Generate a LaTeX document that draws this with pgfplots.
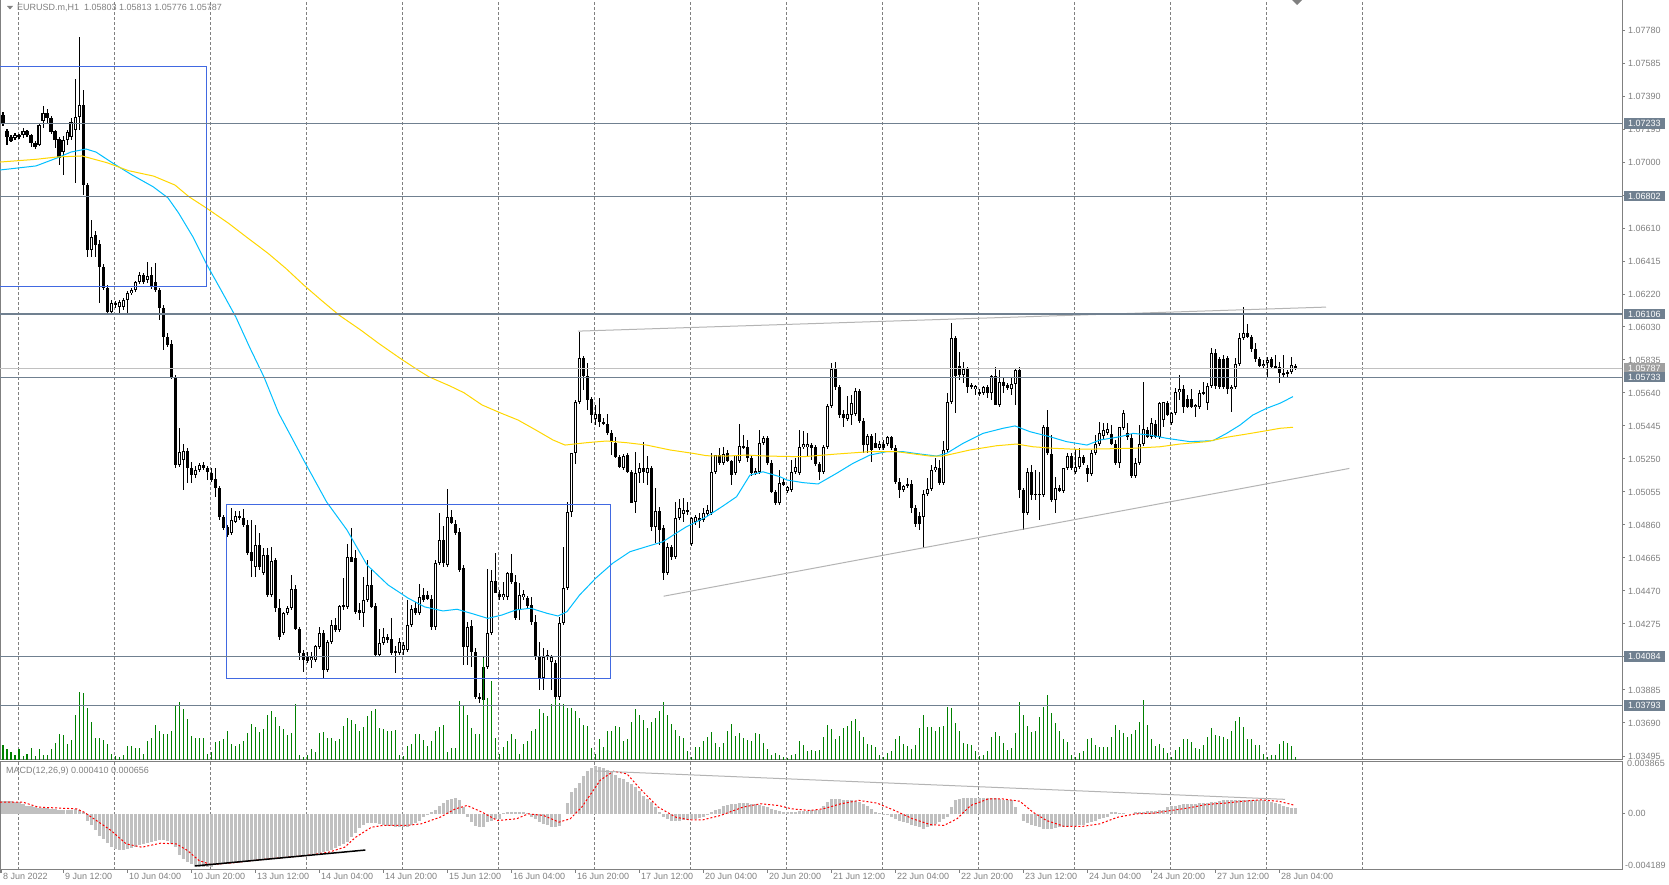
\documentclass[border=0pt]{standalone}
\usepackage{fontspec}
\setmainfont{Liberation Sans}
\usepackage{pgfplots}
\usepackage{pgfplotstable}
\pgfplotsset{compat=1.18}

\definecolor{mtgray}{RGB}{128,128,128}
\definecolor{mtslate}{RGB}{112,128,144}
\definecolor{mtbid}{RGB}{160,160,160}
\definecolor{mtblue}{RGB}{65,105,225}
\definecolor{mtsky}{RGB}{0,191,255}
\definecolor{mtgold}{RGB}{255,215,0}
\definecolor{mtgreen}{RGB}{0,128,0}
\definecolor{mtsilver}{RGB}{192,192,192}
\definecolor{mtline}{RGB}{180,180,180}
\definecolor{mtred}{RGB}{255,0,0}
\newcommand{\mtfont}{\fontsize{9}{10}\selectfont}

% EURUSD H1 bars: index, open, high, low, close, volume (relative), MACD main
\pgfplotstableread{
i o h l c v m
0 1.07282 1.07300 1.07217 1.07229 15 0.00095
1 1.07188 1.07199 1.07105 1.07152 11 0.00095
2 1.07152 1.07164 1.07123 1.07128 8 0.00093
3 1.07146 1.07176 1.07134 1.07164 5 0.0009
4 1.07164 1.07170 1.07140 1.07152 11 0.00087
5 1.07164 1.07205 1.07146 1.07188 4 0.0007
6 1.07188 1.07193 1.07152 1.07164 6 0.0006
7 1.07164 1.07170 1.07093 1.07117 12 0.00055
8 1.07117 1.07128 1.07081 1.07093 4 0.0005
9 1.07105 1.07229 1.07099 1.07223 11 0.00047
10 1.07247 1.07335 1.07205 1.07294 5 0.00042
11 1.07294 1.07317 1.07235 1.07264 5 0.0004
12 1.07264 1.07276 1.07170 1.07182 11 0.00038
13 1.07188 1.07193 1.07087 1.07134 17 0.00035
14 1.07140 1.07152 1.06987 1.07028 26 0.00032
15 1.07063 1.07158 1.06928 1.07134 25 0.0003
16 1.07134 1.07193 1.07105 1.07182 16 0.0003
17 1.07152 1.07264 1.07134 1.07241 20 0.00032
18 1.07193 1.07495 1.06880 1.07270 45 0.00033
19 1.07270 1.07743 1.07193 1.07341 68 0.0003
20 1.07341 1.07430 1.06809 1.06868 67 0.0001
21 1.06868 1.06880 1.06443 1.06484 52 -0.0005
22 1.06484 1.06662 1.06443 1.06561 38 -0.00087
23 1.06573 1.06597 1.06443 1.06514 22 -0.00124
24 1.06520 1.06544 1.06171 1.06384 22 -0.00162
25 1.06384 1.06402 1.06248 1.06260 20 -0.00186
26 1.06260 1.06278 1.06112 1.06118 16 -0.00215
27 1.06118 1.06189 1.06112 1.06171 6 -0.00245
28 1.06171 1.06183 1.06142 1.06160 4 -0.00265
29 1.06148 1.06189 1.06112 1.06177 3 -0.0027
30 1.06148 1.06201 1.06130 1.06189 5 -0.00268
31 1.06189 1.06242 1.06112 1.06230 14 -0.00261
32 1.06230 1.06260 1.06219 1.06248 14 -0.00252
33 1.06248 1.06301 1.06236 1.06295 12 -0.00244
34 1.06295 1.06355 1.06284 1.06337 12 -0.00236
35 1.06337 1.06349 1.06284 1.06295 6 -0.00228
36 1.06307 1.06414 1.06289 1.06331 19 -0.0022
37 1.06337 1.06384 1.06254 1.06266 22 -0.00208
38 1.06295 1.06408 1.06236 1.06248 35 -0.002
39 1.06248 1.06260 1.06071 1.06142 29 -0.00192
40 1.06142 1.06160 1.05894 1.05970 26 -0.00194
41 1.05970 1.05994 1.05911 1.05923 26 -0.00205
42 1.05929 1.05953 1.05722 1.05734 29 -0.00225
43 1.05734 1.05746 1.05196 1.05214 55 -0.00249
44 1.05214 1.05433 1.05202 1.05291 58 -0.00305
45 1.05244 1.05338 1.05067 1.05297 51 -0.00336
46 1.05297 1.05315 1.05108 1.05196 41 -0.0036
47 1.05196 1.05232 1.05108 1.05155 24 -0.00373
48 1.05155 1.05208 1.05138 1.05185 22 -0.00385
49 1.05185 1.05226 1.05173 1.05214 22 -0.00393
50 1.05214 1.05232 1.05185 1.05196 22 -0.004
51 1.05196 1.05208 1.05126 1.05173 6 -0.00398
52 1.05167 1.05196 1.05114 1.05126 8 -0.00393
53 1.05132 1.05196 1.05025 1.05078 18 -0.00385
54 1.05078 1.05090 1.04889 1.04907 19 -0.00378
55 1.04907 1.04919 1.04830 1.04842 21 -0.00375
56 1.04848 1.04860 1.04789 1.04801 29 -0.00372
57 1.04813 1.04960 1.04801 1.04889 16 -0.0037
58 1.04877 1.04942 1.04871 1.04913 14 -0.00368
59 1.04913 1.04942 1.04889 1.04901 16 -0.00365
60 1.04901 1.04954 1.04848 1.04860 19 -0.00362
61 1.04860 1.04889 1.04682 1.04694 27 -0.0036
62 1.04700 1.04889 1.04553 1.04647 36 -0.00355
63 1.04612 1.04860 1.04553 1.04741 33 -0.0035
64 1.04741 1.04813 1.04594 1.04612 28 -0.00348
65 1.04576 1.04724 1.04564 1.04682 31 -0.00345
66 1.04682 1.04724 1.04434 1.04446 45 -0.00343
67 1.04446 1.04730 1.04434 1.04647 49 -0.0034
68 1.04653 1.04665 1.04346 1.04370 43 -0.00337
69 1.04370 1.04422 1.04180 1.04198 34 -0.00334
70 1.04222 1.04346 1.04210 1.04340 31 -0.0033
71 1.04340 1.04381 1.04328 1.04370 25 -0.00327
72 1.04370 1.04564 1.04358 1.04482 27 -0.00323
73 1.04482 1.04506 1.04239 1.04245 56 -0.0032
74 1.04245 1.04257 1.04062 1.04104 5 -0.00317
75 1.04104 1.04121 1.03991 1.04062 3 -0.00313
76 1.04080 1.04110 1.04044 1.04056 5 -0.0031
77 1.04062 1.04110 1.04015 1.04080 11 -0.00303
78 1.04062 1.04151 1.04050 1.04145 8 -0.00298
79 1.04139 1.04257 1.04127 1.04222 27 -0.00292
80 1.04222 1.04239 1.03956 1.04003 28 -0.00286
81 1.04003 1.04180 1.03991 1.04168 22 -0.0028
82 1.04168 1.04298 1.04157 1.04269 22 -0.00273
83 1.04269 1.04310 1.04228 1.04239 19 -0.00255
84 1.04239 1.04387 1.04228 1.04381 21 -0.00241
85 1.04376 1.04547 1.04358 1.04387 34 -0.00227
86 1.04376 1.04747 1.04364 1.04671 42 -0.00211
87 1.04671 1.04842 1.04641 1.04641 40 -0.00175
88 1.04665 1.04712 1.04334 1.04346 36 -0.0014
89 1.04358 1.04399 1.04298 1.04340 29 -0.00105
90 1.04340 1.04553 1.04257 1.04417 33 -0.00085
91 1.04417 1.04653 1.04405 1.04506 44 -0.00065
92 1.04506 1.04594 1.04370 1.04376 49 -0.00065
93 1.04381 1.04399 1.04080 1.04092 51 -0.0007
94 1.04092 1.04245 1.04080 1.04163 32 -0.00078
95 1.04163 1.04251 1.04151 1.04198 31 -0.00085
96 1.04198 1.04216 1.04163 1.04180 29 -0.00088
97 1.04186 1.04310 1.04092 1.04104 29 -0.0009
98 1.04115 1.04145 1.03985 1.04104 30 -0.00095
99 1.04104 1.04192 1.04092 1.04168 5 -0.001
100 1.04121 1.04168 1.04092 1.04151 4 -0.00098
101 1.04121 1.04417 1.04110 1.04269 14 -0.00095
102 1.04269 1.04387 1.04257 1.04364 16 -0.00087
103 1.04370 1.04405 1.04328 1.04340 26 -0.0007
104 1.04340 1.04511 1.04328 1.04434 26 -0.0005
105 1.04446 1.04488 1.04405 1.04417 20 -0.00025
106 1.04446 1.04470 1.04417 1.04423 14 -0.00005
107 1.04423 1.04446 1.04239 1.04257 19 0.00012
108 1.04257 1.04653 1.04239 1.04635 29 0.00025
109 1.04635 1.04931 1.04624 1.04771 33 0.00062
110 1.04771 1.04854 1.04612 1.04635 35 0.0008
111 1.04624 1.05072 1.04612 1.04907 8 0.001
112 1.04907 1.04948 1.04866 1.04872 12 0.00112
113 1.04866 1.04889 1.04801 1.04813 12 0.00115
114 1.04818 1.04842 1.04582 1.04594 59 0.001
115 1.04606 1.04624 1.04033 1.04139 54 0.0005
116 1.04139 1.04286 1.04033 1.04257 45 -0.00025
117 1.04263 1.04298 1.04021 1.04110 32 -0.0006
118 1.04110 1.04133 1.03832 1.03844 26 -0.0009
119 1.03844 1.03867 1.03808 1.03832 26 -0.001
120 1.03826 1.04080 1.03802 1.04021 102 -0.00095
121 1.04021 1.04600 1.04009 1.04222 62 -0.00062
122 1.04222 1.04594 1.04210 1.04529 79 -0.0005
123 1.04529 1.04694 1.04458 1.04458 22 -0.00042
124 1.04452 1.04476 1.04417 1.04434 6 -0.00037
125 1.04434 1.04523 1.04417 1.04452 13 0.00005
126 1.04434 1.04582 1.04417 1.04576 19 0.0001
127 1.04576 1.04688 1.04511 1.04523 26 0.00012
128 1.04523 1.04564 1.04298 1.04310 21 0.00012
129 1.04358 1.04517 1.04298 1.04446 6 0.0001
130 1.04434 1.04476 1.04417 1.04452 16 0.0001
131 1.04429 1.04440 1.04370 1.04381 19 0.00008
132 1.04387 1.04434 1.04269 1.04287 29 -0.00025
133 1.04287 1.04328 1.04062 1.04080 31 -0.0004
134 1.04080 1.04168 1.03885 1.03956 51 -0.0006
135 1.03956 1.04133 1.03885 1.04080 47 -0.00075
136 1.04092 1.04121 1.04062 1.04080 44 -0.00085
137 1.04050 1.04092 1.03885 1.04080 56 -0.00095
138 1.04044 1.04062 1.03826 1.03844 61 -0.001
139 1.03844 1.04316 1.03826 1.04281 57 -0.0009
140 1.04281 1.04730 1.04269 1.04488 56 0
141 1.04488 1.04996 1.04476 1.04937 52 0.0008
142 1.04937 1.05285 1.04907 1.05285 52 0.0016
143 1.05285 1.05598 1.05220 1.05586 49 0.0019
144 1.05586 1.06000 1.05575 1.05847 42 0.0023
145 1.05847 1.05858 1.05657 1.05740 35 0.0028
146 1.05740 1.05817 1.05539 1.05598 34 0.0032
147 1.05604 1.05616 1.05462 1.05510 12 0.0034
148 1.05486 1.05569 1.05450 1.05516 6 0.00355
149 1.05516 1.05610 1.05439 1.05468 21 0.0035
150 1.05468 1.05492 1.05450 1.05456 13 0.0034
151 1.05456 1.05516 1.05391 1.05403 29 0.0033
152 1.05403 1.05421 1.05273 1.05350 29 0.0031
153 1.05344 1.05380 1.05255 1.05261 34 0.0029
154 1.05261 1.05273 1.05196 1.05202 33 0.0027
155 1.05196 1.05279 1.05185 1.05267 19 0.0026
156 1.05273 1.05285 1.05167 1.05173 21 0.0024
157 1.05173 1.05185 1.04990 1.04990 38 0.0022
158 1.04996 1.05291 1.04931 1.05167 51 0.002
159 1.05167 1.05226 1.05108 1.05196 45 0.0017
160 1.05196 1.05350 1.05108 1.05173 40 0.0013
161 1.05167 1.05267 1.05097 1.05196 32 0.0011
162 1.05196 1.05208 1.04824 1.04848 38 0.0009
163 1.04848 1.05078 1.04753 1.04942 42 0.0005
164 1.04942 1.04966 1.04741 1.04830 49 0.0001
165 1.04842 1.04860 1.04535 1.04576 58 -0.00025
166 1.04576 1.04753 1.04564 1.04730 45 -0.0004
167 1.04730 1.04741 1.04653 1.04671 36 -0.0005
168 1.04671 1.04996 1.04659 1.04901 30 -0.0005
169 1.04901 1.05014 1.04889 1.04960 24 -0.0005
170 1.04925 1.05020 1.04877 1.04948 22 -0.00048
171 1.04937 1.04996 1.04919 1.04948 9 -0.00045
172 1.04747 1.04907 1.04735 1.04901 3 -0.0004
173 1.04877 1.04919 1.04860 1.04907 13 -0.00035
174 1.04901 1.04931 1.04842 1.04883 13 -0.00028
175 1.04889 1.04960 1.04877 1.04931 19 -0.0002
176 1.04925 1.04978 1.04913 1.04948 23 -0.00012
177 1.04931 1.05285 1.04919 1.05173 28 0.00012
178 1.05173 1.05273 1.05161 1.05273 17 0.00025
179 1.05273 1.05315 1.05214 1.05226 13 0.00037
180 1.05226 1.05321 1.05214 1.05279 17 0.0006
181 1.05285 1.05303 1.05232 1.05238 29 0.00065
182 1.05238 1.05244 1.05097 1.05155 36 0.0007
183 1.05167 1.05273 1.05155 1.05273 24 0.00075
184 1.05238 1.05456 1.05226 1.05327 27 0.0008
185 1.05327 1.05391 1.05309 1.05315 22 0.0008
186 1.05321 1.05362 1.05232 1.05255 20 0.00078
187 1.05255 1.05273 1.05149 1.05167 19 0.00075
188 1.05167 1.05196 1.05155 1.05179 27 0.0007
189 1.05173 1.05421 1.05161 1.05344 26 0.00065
190 1.05344 1.05386 1.05332 1.05374 17 0.0006
191 1.05374 1.05386 1.05214 1.05226 11 0.0005
192 1.05226 1.05244 1.05049 1.05055 5 0.00037
193 1.05055 1.05067 1.04978 1.04990 7 0.0003
194 1.04990 1.05185 1.04978 1.05108 5 0.0002
195 1.05114 1.05138 1.05090 1.05097 3 0.00015
196 1.05061 1.05090 1.05049 1.05084 2 0.00012
197 1.05067 1.05244 1.05055 1.05173 5 0.00015
198 1.05173 1.05255 1.05161 1.05202 6 0.00015
199 1.05167 1.05421 1.05155 1.05321 19 0.0002
200 1.05321 1.05415 1.05309 1.05338 15 0.0002
201 1.05321 1.05403 1.05261 1.05338 9 0.00022
202 1.05332 1.05344 1.05244 1.05315 10 0.00025
203 1.05321 1.05332 1.05208 1.05220 9 0.00025
204 1.05220 1.05232 1.05126 1.05173 10 0.00025
205 1.05173 1.05332 1.05161 1.05321 23 0.0006
206 1.05321 1.05575 1.05309 1.05563 35 0.0009
207 1.05563 1.05817 1.05551 1.05781 31 0.0011
208 1.05781 1.05823 1.05657 1.05675 21 0.0011
209 1.05675 1.05687 1.05492 1.05510 24 0.00108
210 1.05516 1.05539 1.05439 1.05492 32 0.00105
211 1.05486 1.05622 1.05474 1.05516 34 0.00102
212 1.05510 1.05628 1.05450 1.05580 39 0.001
213 1.05516 1.05669 1.05504 1.05651 41 0.00098
214 1.05651 1.05663 1.05462 1.05474 29 0.0009
215 1.05474 1.05492 1.05285 1.05332 23 0.0007
216 1.05332 1.05397 1.05285 1.05386 16 0.00055
217 1.05386 1.05397 1.05232 1.05303 15 0.00037
218 1.05344 1.05403 1.05315 1.05315 13 0.00012
219 1.05315 1.05356 1.05303 1.05338 5 0.00005
220 1.05338 1.05362 1.05303 1.05315 3 -0.00005
221 1.05338 1.05386 1.05327 1.05380 7 -0.00012
222 1.05380 1.05386 1.05303 1.05315 9 -0.00025
223 1.05315 1.05332 1.05102 1.05114 21 -0.0004
224 1.05114 1.05138 1.05019 1.05067 24 -0.0005
225 1.05067 1.05097 1.05055 1.05090 16 -0.0006
226 1.05102 1.05138 1.05078 1.05090 14 -0.0007
227 1.05102 1.05126 1.04931 1.04960 11 -0.0008
228 1.04960 1.04978 1.04848 1.04866 15 -0.0009
229 1.04913 1.04937 1.04830 1.04866 32 -0.001
230 1.04907 1.05067 1.04724 1.05043 45 -0.0011
231 1.05043 1.05138 1.05032 1.05073 33 -0.001
232 1.05073 1.05214 1.05061 1.05185 33 -0.0009
233 1.05185 1.05255 1.05173 1.05202 29 -0.00075
234 1.05196 1.05244 1.05097 1.05108 33 -0.0006
235 1.05108 1.05356 1.05097 1.05303 34 -0.0004
236 1.05303 1.05639 1.05291 1.05586 53 -0.00025
237 1.05586 1.06053 1.05575 1.05965 52 0.0005
238 1.05965 1.05977 1.05521 1.05740 37 0.001
239 1.05799 1.05882 1.05716 1.05746 29 0.0011
240 1.05746 1.05823 1.05699 1.05781 17 0.00115
241 1.05781 1.05793 1.05640 1.05675 16 0.0012
242 1.05687 1.05699 1.05663 1.05675 15 0.0012
243 1.05663 1.05687 1.05628 1.05681 9 0.0012
244 1.05645 1.05663 1.05622 1.05634 4 0.00118
245 1.05639 1.05681 1.05628 1.05675 5 0.00115
246 1.05675 1.05687 1.05610 1.05639 9 0.0012
247 1.05639 1.05746 1.05598 1.05740 23 0.0012
248 1.05740 1.05793 1.05569 1.05569 28 0.00115
249 1.05569 1.05775 1.05557 1.05705 24 0.0011
250 1.05705 1.05734 1.05639 1.05681 17 0.00105
251 1.05687 1.05699 1.05657 1.05669 10 0.001
252 1.05663 1.05734 1.05628 1.05693 12 0.001
253 1.05693 1.05787 1.05569 1.05775 27 0.0005
254 1.05775 1.05793 1.05018 1.05067 58 0
255 1.05067 1.05078 1.04830 1.04931 45 -0.0005
256 1.04931 1.05196 1.04919 1.05173 34 -0.0007
257 1.05173 1.05214 1.05007 1.05037 28 -0.0008
258 1.05037 1.05185 1.05007 1.05043 29 -0.0009
259 1.05043 1.05173 1.04889 1.05037 43 -0.001
260 1.05037 1.05450 1.05025 1.05439 53 -0.0011
261 1.05439 1.05539 1.05273 1.05285 65 -0.0011
262 1.05279 1.05391 1.04996 1.05007 47 -0.0011
263 1.05007 1.05143 1.04931 1.05078 37 -0.00105
264 1.05078 1.05097 1.05055 1.05061 29 -0.001
265 1.05061 1.05196 1.05049 1.05196 21 -0.001
266 1.05196 1.05285 1.05185 1.05267 18 -0.00095
267 1.05267 1.05285 1.05185 1.05196 5 -0.0009
268 1.05173 1.05309 1.05161 1.05202 3 -0.0009
269 1.05202 1.05315 1.05190 1.05261 7 -0.00085
270 1.05261 1.05273 1.05214 1.05226 9 -0.0008
271 1.05196 1.05214 1.05114 1.05161 21 -0.0007
272 1.05161 1.05303 1.05149 1.05285 22 -0.0006
273 1.05285 1.05391 1.05273 1.05338 15 -0.0005
274 1.05338 1.05468 1.05327 1.05403 13 -0.0004
275 1.05386 1.05462 1.05362 1.05421 13 -0.0003
276 1.05403 1.05462 1.05391 1.05427 13 -0.00025
277 1.05397 1.05450 1.05332 1.05338 23 0.0001
278 1.05338 1.05362 1.05214 1.05226 35 0.0001
279 1.05226 1.05439 1.05196 1.05439 30 0.00005
280 1.05433 1.05539 1.05421 1.05521 27 0.00005
281 1.05403 1.05462 1.05362 1.05380 23 0
282 1.05374 1.05397 1.05138 1.05149 26 0
283 1.05149 1.05255 1.05138 1.05226 30 0.0001
284 1.05226 1.05450 1.05214 1.05338 38 0.00012
285 1.05338 1.05705 1.05327 1.05427 60 0.00015
286 1.05421 1.05439 1.05374 1.05380 35 0.00018
287 1.05380 1.05492 1.05368 1.05462 21 0.0002
288 1.05456 1.05480 1.05374 1.05380 14 0.00022
289 1.05380 1.05586 1.05368 1.05580 16 0.00025
290 1.05480 1.05586 1.05439 1.05586 12 0.00025
291 1.05580 1.05592 1.05504 1.05510 7 0.0005
292 1.05462 1.05527 1.05450 1.05521 3 0.00055
293 1.05521 1.05669 1.05510 1.05645 10 0.0006
294 1.05645 1.05746 1.05598 1.05663 13 0.00065
295 1.05663 1.05687 1.05521 1.05557 21 0.0007
296 1.05604 1.05628 1.05551 1.05557 21 0.0007
297 1.05604 1.05663 1.05551 1.05557 18 0.0007
298 1.05557 1.05575 1.05498 1.05569 12 0.00075
299 1.05557 1.05657 1.05545 1.05639 11 0.00078
300 1.05639 1.05705 1.05628 1.05645 15 0.0008
301 1.05580 1.05699 1.05539 1.05681 23 0.00082
302 1.05681 1.05906 1.05669 1.05876 32 0.00085
303 1.05876 1.05900 1.05663 1.05681 25 0.0009
304 1.05840 1.05852 1.05663 1.05675 24 0.00095
305 1.05840 1.05864 1.05663 1.05675 23 0.001
306 1.05847 1.05858 1.05634 1.05663 21 0.001
307 1.05663 1.05687 1.05527 1.05675 29 0.001
308 1.05675 1.05847 1.05663 1.05811 39 0.001
309 1.05811 1.05994 1.05799 1.05965 43 0.001
310 1.05965 1.06148 1.05953 1.05994 33 0.00102
311 1.05994 1.06047 1.05965 1.05970 21 0.00102
312 1.05970 1.05982 1.05882 1.05900 21 0.001
313 1.05900 1.05935 1.05823 1.05840 15 0.001
314 1.05840 1.05852 1.05793 1.05799 15 0.001
315 1.05799 1.05835 1.05787 1.05811 6 0.001
316 1.05817 1.05852 1.05734 1.05835 3 0.00098
317 1.05840 1.05852 1.05787 1.05793 5 0.0009
318 1.05799 1.05864 1.05781 1.05787 5 0.00082
319 1.05793 1.05823 1.05699 1.05757 16 0.0007
320 1.05757 1.05864 1.05728 1.05746 19 0.0006
321 1.05752 1.05775 1.05728 1.05763 17 0.0005
322 1.05763 1.05852 1.05752 1.05805 14 0.00045
323 1.05803 1.05813 1.05776 1.05787 3 0.00041
}\bars

% fast moving average (blue)
\pgfplotstableread{
i p
-0.75 1.06957
8.25 1.06981
13.5 1.07028
17 1.07063
20.75 1.07081
23.25 1.07063
27.75 1.06993
32.25 1.06928
37.6 1.06857
41.25 1.06792
43.9 1.06703
47.5 1.06561
51 1.06396
54.5 1.06248
58.2 1.06089
61.75 1.05905
65.25 1.05734
68.9 1.05521
72.5 1.05362
75.15 1.05244
80.9 1.04996
86 1.04830
91 1.04624
96.25 1.04506
101.25 1.04428
105.4 1.04376
110 1.04352
113.5 1.04362
117.6 1.04334
121.2 1.04308
124.75 1.04328
128.25 1.04358
131.9 1.04368
136 1.04338
138.75 1.04322
141 1.04348
144.15 1.04446
148.25 1.04547
152.5 1.04635
156.75 1.04702
160.9 1.04732
165 1.04761
168.4 1.04813
170.9 1.04850
175.9 1.04909
180 1.04972
183.4 1.05027
186.75 1.05155
190 1.05174
194.25 1.05145
195.9 1.05126
200 1.05110
203.75 1.05102
208.4 1.05165
212.5 1.05224
216.75 1.05273
220.9 1.05293
225 1.05293
229.25 1.05279
233.4 1.05267
235.9 1.05283
240 1.05342
245 1.05401
250 1.05431
253 1.05445
256.75 1.05411
261.75 1.05381
265.9 1.05352
271 1.05332
274.25 1.05362
279.25 1.05381
282.5 1.05401
286.75 1.05391
290.9 1.05372
296.75 1.05352
302.5 1.05358
305.9 1.05401
309.25 1.05450
312.5 1.05510
315.9 1.05549
319.25 1.05579
322.5 1.05618
}\maone

% slow moving average (gold)
\pgfplotstableread{
i p
-0.75 1.07004
8.2 1.07020
13.5 1.07034
19.75 1.07040
26 1.07000
31.4 1.06953
37.65 1.06921
43 1.06868
46.5 1.06799
51 1.06730
56.4 1.06642
60.75 1.06563
66.25 1.06465
70.7 1.06376
75.15 1.06278
79.5 1.06189
84 1.06100
89.4 1.06012
93.9 1.05933
99.25 1.05845
103.75 1.05775
106.4 1.05736
111.75 1.05681
115.25 1.05641
119.75 1.05569
124.25 1.05523
128.75 1.05480
133.2 1.05421
137.5 1.05362
140.5 1.05332
145.9 1.05346
150.9 1.05356
155.9 1.05346
160.9 1.05332
166.75 1.05303
172.5 1.05283
175.9 1.05269
180.9 1.05267
185.9 1.05273
190.9 1.05267
200 1.05263
208.4 1.05279
216.75 1.05293
223.4 1.05293
231.75 1.05267
235 1.05267
241.75 1.05303
248.4 1.05328
253.4 1.05338
257.5 1.05322
262.5 1.05313
268.4 1.05307
274.25 1.05309
282.5 1.05313
289.25 1.05322
294.25 1.05338
300.9 1.05352
305.9 1.05378
310.9 1.05397
315.9 1.05417
319.25 1.05431
322.5 1.05437
}\matwo

% MACD signal line
\pgfplotstableread{
i s
-0.75 0.00087
5 0.00087
8.8 0.0005
18.4 0.00037
20.3 0.00012
27 -0.00124
30.8 -0.00224
34.7 -0.00249
39.4 -0.00219
43.3 -0.00224
46.1 -0.00273
49 -0.00348
51.9 -0.00378
56.7 -0.00368
66.2 -0.00336
75.8 -0.00311
81.5 -0.00286
85.4 -0.00249
88.2 -0.00174
92.1 -0.001
94.9 -0.00087
100.7 -0.00087
104.5 -0.00075
109.3 -0.00025
113.1 0.00037
116 0.00062
119.8 0.00012
123.6 -0.0005
128.4 -0.00037
131.3 0
135.1 -0.00012
139 -0.00062
141.8 -0.00037
144.7 0.0005
149.3 0.00250
152.6 0.00318
156 0.00298
159.3 0.00186
163.8 0.0005
168.2 -0.00025
171.6 -0.00045
175 -0.00045
179.4 -0.00012
185 0.0005
189.4 0.00075
193.9 0.00062
197.2 0.00037
201.7 0.00025
205 0.00037
209.5 0.00075
214 0.001
218.5 0.0008
222.9 0.00025
227.4 -0.00037
231.8 -0.0008
235.2 -0.00087
238.5 -0.00037
241.9 0.00062
246.4 0.00112
249.7 0.00112
254.2 0.00094
257.5 0.00012
260.9 -0.0005
265.3 -0.00094
269.8 -0.00094
274.2 -0.00075
278.7 -0.00025
283.2 0
287.6 0.00005
292.1 0.00025
296.6 0.00045
301 0.0007
305.5 0.0008
310 0.00094
314.4 0.00104
318.9 0.00094
322.6 0.00066
}\signal

\pgfplotsset{
  mtpanel/.style={
    scale only axis, width=1622pt,
    xmin=-0.75, xmax=404.75,
    axis line style={mtgray, line width=1pt},
    tick style={mtgray, line width=1pt},
    tick align=outside, major tick length=3pt,
    ticklabel style={font=\mtfont, text=mtgray},
    grid style={mtgray, line width=1pt, dash pattern=on 3pt off 2pt},
    scaled x ticks=false, scaled y ticks=false,
  },
}
\tikzset{
  mtbox/.style={anchor=west, xshift=2pt, fill=#1, text=white, font=\mtfont,
    inner xsep=4pt, inner ysep=0pt, minimum height=10.5pt},
}

\begin{document}
\begin{tikzpicture}
\fill[white] (0,0) rectangle (1669pt,885pt);
\path[use as bounding box] (0,0) rectangle (1669pt,885pt);

% price panel: grid and candles
\begin{axis}[mtpanel, at={(0pt,125pt)}, anchor=south west, height=760pt,
  ymin=1.034714, ymax=1.079614,
  xtick={3.85,27.85,...,339.85}, xticklabels={}, xmajorgrids,
  x tick style={draw=none},
  ytick pos=right,
  ytick={1.07780,1.07585,1.07390,1.07195,1.07000,1.06805,1.06610,1.06415,1.06220,1.06030,1.05835,1.05640,1.05445,1.05250,1.05055,1.04860,1.04665,1.04470,1.04275,1.04080,1.03885,1.03690,1.03495},
  yticklabels={1.07780,1.07585,1.07390,1.07195,1.07000,1.06805,1.06610,1.06415,1.06220,1.06030,1.05835,1.05640,1.05445,1.05250,1.05055,1.04860,1.04665,1.04470,1.04275,1.04080,1.03885,1.03690,1.03495},
  yticklabel style={anchor=west, inner sep=0pt, xshift=3pt},
]
% wicks
\addplot[draw=none, error bars/.cd, y dir=both, y explicit, error mark=none,
  error bar style={draw=black, line width=1pt}]
  table[x=i, y expr={(\thisrow{h}+\thisrow{l})/2}, y error expr={(\thisrow{h}-\thisrow{l})/2}] {\bars};
% bodies
\addplot[draw=none, error bars/.cd, y dir=both, y explicit, error mark=none,
  error bar style={draw=black, line width=3pt}]
  table[x=i, y expr={(\thisrow{o}+\thisrow{c})/2}, y error expr={max(abs(\thisrow{c}-\thisrow{o})/2,0.00003)}] {\bars};
% hollow inside of rising candles
\addplot[draw=none, error bars/.cd, y dir=both, y explicit, error mark=none,
  error bar style={draw=white, line width=1pt}]
  table[x=i, y expr={\thisrow{c}>\thisrow{o} ? (\thisrow{o}+\thisrow{c})/2 : 2}, y error expr={max((\thisrow{c}-\thisrow{o})/2-0.000059,0)}] {\bars};
\end{axis}

% volumes
\begin{axis}[mtpanel, at={(0pt,125pt)}, anchor=south west, height=760pt,
  ymin=0, ymax=760, hide axis]
\addplot[ycomb, mtgreen, line width=1pt, mark=none] table[x=i, y=v] {\bars};
\end{axis}

% indicators and objects
\begin{axis}[mtpanel, at={(0pt,125pt)}, anchor=south west, height=760pt,
  ymin=1.034714, ymax=1.079614, hide axis, clip mode=individual]
\addplot[mtsky, line width=1pt] table[x=i, y=p] {\maone};
\addplot[mtgold, line width=1pt] table[x=i, y=p] {\matwo};
\addplot[mtblue, line width=1pt] coordinates {(-3,1.07567) (50.9,1.07567) (50.9,1.06267) (-3,1.06267)};
\addplot[mtblue, line width=1pt] coordinates {(55.75,1.04983) (151.8,1.04983) (151.8,1.03953) (55.75,1.03953) (55.75,1.04983)};
\addplot[mtline, line width=1pt] coordinates {(143.75,1.06005) (330.75,1.06147)};
\addplot[mtline, line width=1pt] coordinates {(165.15,1.04439) (336.6,1.05194)};
\addplot[mtsilver, line width=1pt] coordinates {(-1,1.05787) (406,1.05787)};
\addplot[mtslate, line width=1.2pt] coordinates {(-1,1.07233) (406,1.07233)};
\addplot[mtslate, line width=1.2pt] coordinates {(-1,1.06802) (406,1.06802)};
\addplot[mtslate, line width=1.2pt] coordinates {(-1,1.06106) (406,1.06106)};
\addplot[mtslate, line width=1.2pt] coordinates {(-1,1.05733) (406,1.05733)};
\addplot[mtslate, line width=1.2pt] coordinates {(-1,1.04084) (406,1.04084)};
\addplot[mtslate, line width=1.2pt] coordinates {(-1,1.03793) (406,1.03793)};
\node[mtbox=mtslate] at (axis cs:404.75,1.07233) {1.07233};
\node[mtbox=mtslate] at (axis cs:404.75,1.06802) {1.06802};
\node[mtbox=mtslate] at (axis cs:404.75,1.06106) {1.06106};
\node[mtbox=mtbid] at (axis cs:404.75,1.05787) {1.05787};
\node[mtbox=mtslate] at (axis cs:404.75,1.05733) {1.05733};
\node[mtbox=mtslate] at (axis cs:404.75,1.04084) {1.04084};
\node[mtbox=mtslate] at (axis cs:404.75,1.03793) {1.03793};
\end{axis}

% MACD panel
\begin{axis}[mtpanel, at={(0pt,15pt)}, anchor=south west, height=108pt,
  ymin=-0.004189, ymax=0.003865, clip mode=individual,
  xtick pos=bottom,
  xtick={-0.5,15,31,...,319},
  xticklabels={8 Jun 2022,9 Jun 12:00,10 Jun 04:00,10 Jun 20:00,13 Jun 12:00,14 Jun 04:00,14 Jun 20:00,15 Jun 12:00,16 Jun 04:00,16 Jun 20:00,17 Jun 12:00,20 Jun 04:00,20 Jun 20:00,21 Jun 12:00,22 Jun 04:00,22 Jun 20:00,23 Jun 12:00,24 Jun 04:00,24 Jun 20:00,27 Jun 12:00,28 Jun 04:00},
  xticklabel style={anchor=north west, inner sep=0pt, xshift=2pt},
  extra x ticks={3.85,27.85,...,339.85}, extra x tick labels={},
  extra x tick style={grid=major, major tick length=0pt},
  ytick pos=right, ytick={0}, yticklabels={0.00},
  yticklabel style={anchor=west, inner sep=0pt, xshift=3pt},
]
\addplot[ycomb, mtsilver, line width=3pt, mark=none] table[x=i, y=m] {\bars};
\addplot[mtred, line width=1pt, dash pattern=on 2pt off 2pt] table[x=i, y=s] {\signal};
\addplot[mtline, line width=1pt] coordinates {(148,0.0032) (320.5,0.00108)};
\addplot[black, line width=1.5pt] coordinates {(47.9,-0.00389) (90.6,-0.0027)};
\end{axis}

% panel captions
\fill[mtgray] (7pt,879pt) -- (13pt,879pt) -- (10pt,875.5pt) -- cycle;
\node[anchor=west, inner sep=0pt, font=\mtfont, text=mtgray] at (17pt,877pt)
  {EURUSD.m,H1\hspace{5pt}1.05803 1.05813 1.05776 1.05787};
\fill[mtgray] (1292pt,885pt) -- (1302pt,885pt) -- (1297pt,880pt) -- cycle;
\node[anchor=west, inner sep=0pt, font=\mtfont, text=mtgray] at (6pt,114pt)
  {MACD(12,26,9) 0.000410 0.000656};
\node[anchor=west, inner sep=0pt, font=\mtfont, text=mtgray] at (1627pt,122pt) {0.003865};
\node[anchor=west, inner sep=0pt, font=\mtfont, text=mtgray] at (1625pt,20pt) {-0.004189};
\end{tikzpicture}
\end{document}
